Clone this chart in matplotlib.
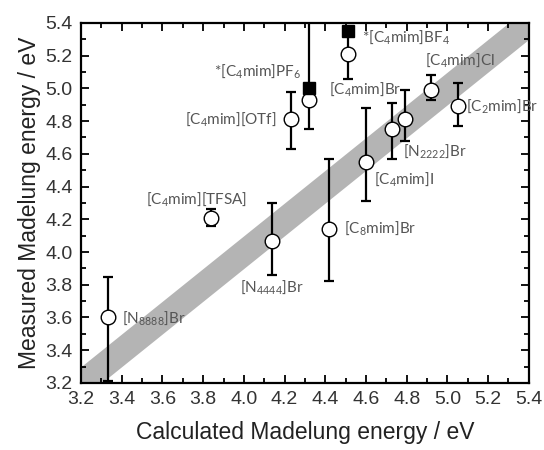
import numpy as np
import matplotlib
matplotlib.use("Agg")
import matplotlib.pyplot as plt
from matplotlib.ticker import MultipleLocator

plt.rcParams['font.family'] = ['Liberation Sans', 'DejaVu Sans']
plt.rcParams['mathtext.fontset'] = 'custom'
plt.rcParams['mathtext.rm'] = 'Lato'

# open circles: calculated vs measured Madelung energy
calc = [3.33, 3.84, 4.14, 4.42, 4.60, 4.73, 4.79, 4.51, 4.32, 4.23, 4.92, 5.05]
meas = [3.60, 4.21, 4.07, 4.14, 4.55, 4.75, 4.81, 5.21, 4.93, 4.81, 4.99, 4.89]
err_lo = [0.39, 0.05, 0.21, 0.32, 0.24, 0.18, 0.13, 0.15, 0.18, 0.18, 0.06, 0.12]
err_hi = [0.25, 0.05, 0.23, 0.43, 0.33, 0.16, 0.18, 0.15, 0.60, 0.17, 0.09, 0.14]

# filled squares (*PF6, *BF4)
sq_calc = [4.32, 4.51]
sq_meas = [5.00, 5.35]

# grey band around y = x
band_x = [3.2, 5.4]
band_half = 0.10

# labels: text, x, y, alignment
labels = [
    (r'*[C$_\mathregular{4}$mim]BF$_\mathregular{4}$', 4.58, 5.31, 'left'),
    (r'*[C$_\mathregular{4}$mim]PF$_\mathregular{6}$', 4.28, 5.10, 'right'),
    (r'[C$_\mathregular{4}$mim]Br', 4.42, 4.99, 'left'),
    (r'[C$_\mathregular{4}$mim][OTf]', 4.16, 4.81, 'right'),
    (r'[C$_\mathregular{4}$mim][TFSA]', 3.77, 4.32, 'center'),
    (r'[N$_\mathregular{4444}$]Br', 4.14, 3.78, 'center'),
    (r'[C$_\mathregular{8}$mim]Br', 4.49, 4.14, 'left'),
    (r'[C$_\mathregular{4}$mim]I', 4.64, 4.44, 'left'),
    (r'[N$_\mathregular{2222}$]Br', 4.78, 4.61, 'left'),
    (r'[N$_\mathregular{8888}$]Br', 3.40, 3.59, 'left'),
    (r'[C$_\mathregular{4}$mim]Cl', 4.89, 5.17, 'left'),
    (r'[C$_\mathregular{2}$mim]Br', 5.09, 4.89, 'left'),
]

fig = plt.figure(figsize=(5.44, 4.5), dpi=100)
ax = fig.add_axes([0.149, 0.149, 0.823, 0.800])

bx = np.array(band_x)
ax.fill_between(bx, bx - band_half, bx + band_half, color='#b4b4b4', lw=0, zorder=1)

ax.errorbar(calc, meas, yerr=[err_lo, err_hi], fmt='none', ecolor='black',
            elinewidth=1.6, capsize=3.5, capthick=1.6, zorder=2)
ax.plot(calc, meas, 'o', ms=10.5, mfc='white', mec='black', mew=1.0, zorder=3)
ax.plot(sq_calc, sq_meas, 's', ms=9, mfc='black', mec='black', zorder=4)

for txt, x, y, ha in labels:
    ax.text(x, y, txt, ha=ha, va='center', fontsize=11, color='#555555',
            family=['Lato', 'DejaVu Sans'])

ax.set_xlim(3.2, 5.4)
ax.set_ylim(3.2, 5.4)
ax.xaxis.set_major_locator(MultipleLocator(0.2))
ax.yaxis.set_major_locator(MultipleLocator(0.2))
ax.xaxis.set_minor_locator(MultipleLocator(0.1))
ax.yaxis.set_minor_locator(MultipleLocator(0.1))
ax.xaxis.set_major_formatter(matplotlib.ticker.FormatStrFormatter('%.1f'))
ax.yaxis.set_major_formatter(matplotlib.ticker.FormatStrFormatter('%.1f'))
ax.tick_params(which='both', direction='in', top=True, right=True, width=1.3)
ax.tick_params(which='major', length=6, labelsize=14, labelcolor='#333333', pad=6)
ax.tick_params(which='minor', length=3.5)
for s in ax.spines.values():
    s.set_linewidth(1.6)

ax.set_xlabel('Calculated Madelung energy / eV', fontsize=16.5, color='#222222', labelpad=9)
ax.set_ylabel('Measured Madelung energy / eV', fontsize=16.5, color='#222222', labelpad=3)

fig.savefig('out.png', dpi=100)
